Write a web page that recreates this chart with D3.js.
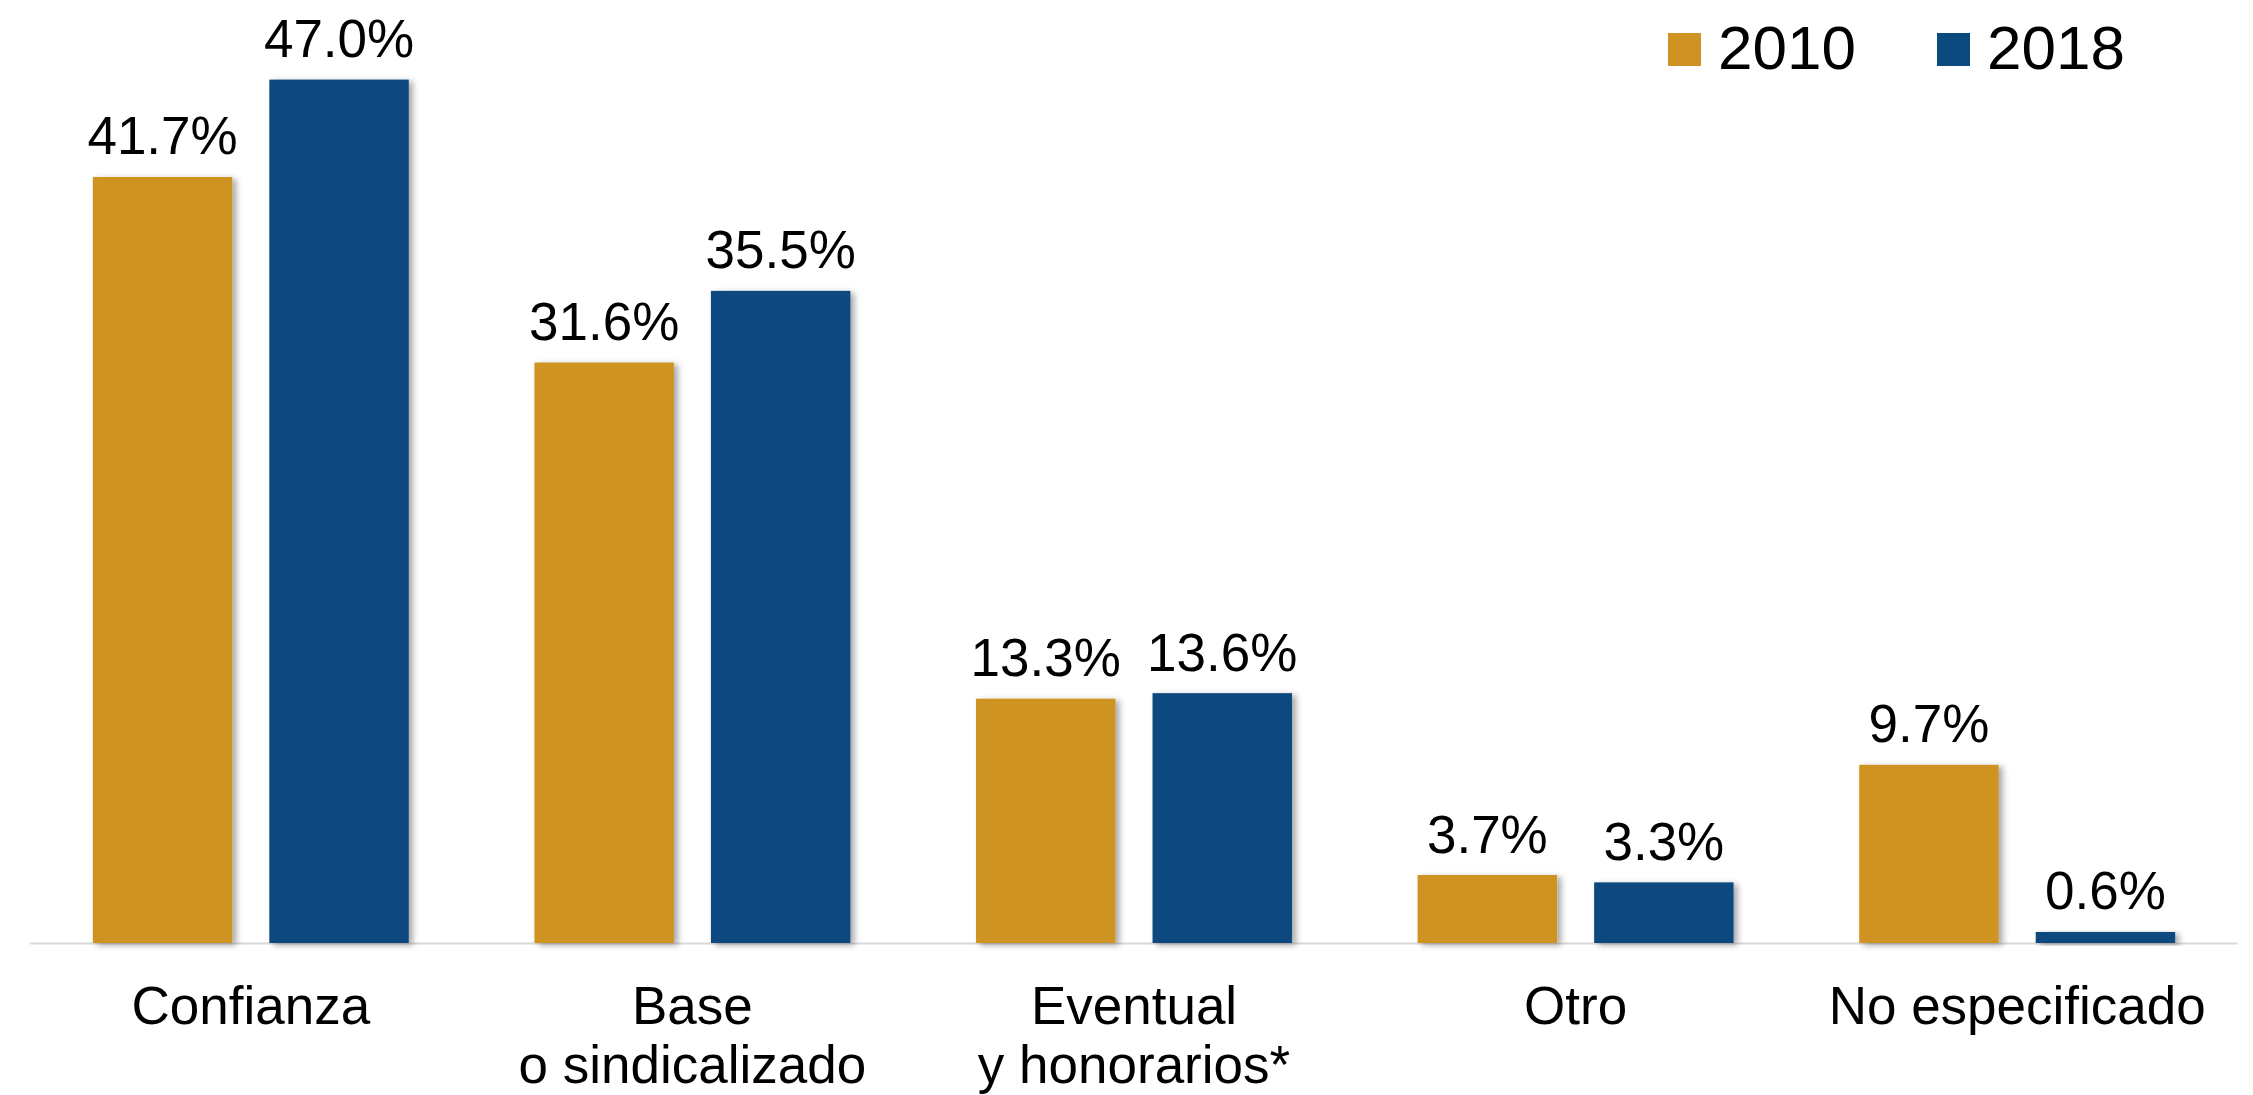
<!DOCTYPE html>
<html>
<head>
<meta charset="utf-8">
<script src="https://cdn.jsdelivr.net/npm/d3@7"></script>
<style>
  html, body { margin: 0; padding: 0; background: #fff; }
  svg { display: block; font-family: "Liberation Sans", Arial, sans-serif; }
</style>
</head>
<body>
<svg id="svg_chart" width="2253" height="1095"></svg>
<script>
// Tipo de contratación, 2010 vs 2018

const categories = ['Confianza', 'Base\no sindicalizado', 'Eventual\ny honorarios*', 'Otro', 'No especificado'];
const series = ['2010', '2018'];
const values2010 = [41.7, 31.6, 13.3, 3.7, 9.7];
const values2018 = [47.0, 35.5, 13.6, 3.3, 0.6];
const colors = ['#CF9323', '#0B4A7E'];

const svgWidth = 2253;
const svgHeight = 1095;
const baseY = 943;

let svg = d3.select('#svg_chart');

// shadow like the office chart
let defs = svg.append('defs');
defs.append('filter')
    .attr('id', 'shadow')
    .attr('x', '-10%').attr('y', '-10%')
    .attr('width', '130%').attr('height', '130%')
  .append('feDropShadow')
    .attr('dx', 4).attr('dy', 2)
    .attr('stdDeviation', 3)
    .attr('flood-color', '#000')
    .attr('flood-opacity', 0.35);

// Scales
let x0 = d3.scaleBand()
           .domain(categories)
           .range([30, 2238]);

let x1 = d3.scaleBand()
           .domain(series)
           .range([0, x0.bandwidth()])
           .paddingInner(0.21)
           .paddingOuter(0.356);

let yScale = d3.scaleLinear()
               .domain([0, 50])
               .range([baseY, baseY - 50 * 18.37]);

let rows = categories.map((c, i) => ({
    cat: c,
    vals: [
        { key: '2010', value: values2010[i], color: colors[0] },
        { key: '2018', value: values2018[i], color: colors[1] }
    ]
}));

// baseline
svg.append('line')
   .attr('x1', 30).attr('x2', 2238)
   .attr('y1', baseY + 0.5).attr('y2', baseY + 0.5)
   .attr('stroke', '#d9d9d9')
   .attr('stroke-width', 2);

// Bars
let groups = svg.selectAll('g.group')
    .data(rows)
    .join('g')
    .attr('class', 'group')
    .attr('transform', d => `translate(${x0(d.cat)}, 0)`);

groups.selectAll('rect')
    .data(d => d.vals)
    .join('rect')
    .attr('x', d => x1(d.key))
    .attr('y', d => yScale(d.value))
    .attr('width', x1.bandwidth())
    .attr('height', d => baseY - yScale(d.value))
    .attr('fill', d => d.color)
    .attr('filter', 'url(#shadow)');

groups.selectAll('text.val')
    .data(d => d.vals)
    .join('text')
    .attr('class', 'val')
    .attr('x', d => x1(d.key) + x1.bandwidth() / 2)
    .attr('y', d => yScale(d.value) - 22.5)
    .attr('text-anchor', 'middle')
    .attr('font-size', 53)
    .attr('fill', '#000')
    .text(d => d.value.toFixed(1) + '%');

// Category labels (x axis without ticks)
let xAxis = d3.axisBottom(x0).tickSize(0).tickFormat('');
let axisG = svg.append('g')
   .attr('transform', `translate(0, ${baseY})`)
   .call(xAxis);
axisG.select('.domain').remove();

axisG.selectAll('.tick').each(function(d) {
    let t = d3.select(this).append('text')
        .attr('text-anchor', 'middle')
        .attr('font-size', 53)
        .attr('fill', '#000');
    d.split('\n').forEach((line, j) => {
        t.append('tspan')
         .attr('x', 0)
         .attr('y', 80.5 + j * 59)
         .text(line);
    });
});

// Legend
let legendX = [1668, 1937];
let legend = svg.append('g');
series.forEach((s, i) => {
    legend.append('rect')
          .attr('x', legendX[i]).attr('y', 33)
          .attr('width', 33).attr('height', 33)
          .attr('fill', colors[i]);
    legend.append('text')
          .attr('x', legendX[i] + 50)
          .attr('y', 69)
          .attr('font-size', 62)
          .attr('fill', '#000')
          .text(s);
});
</script>
</body>
</html>
